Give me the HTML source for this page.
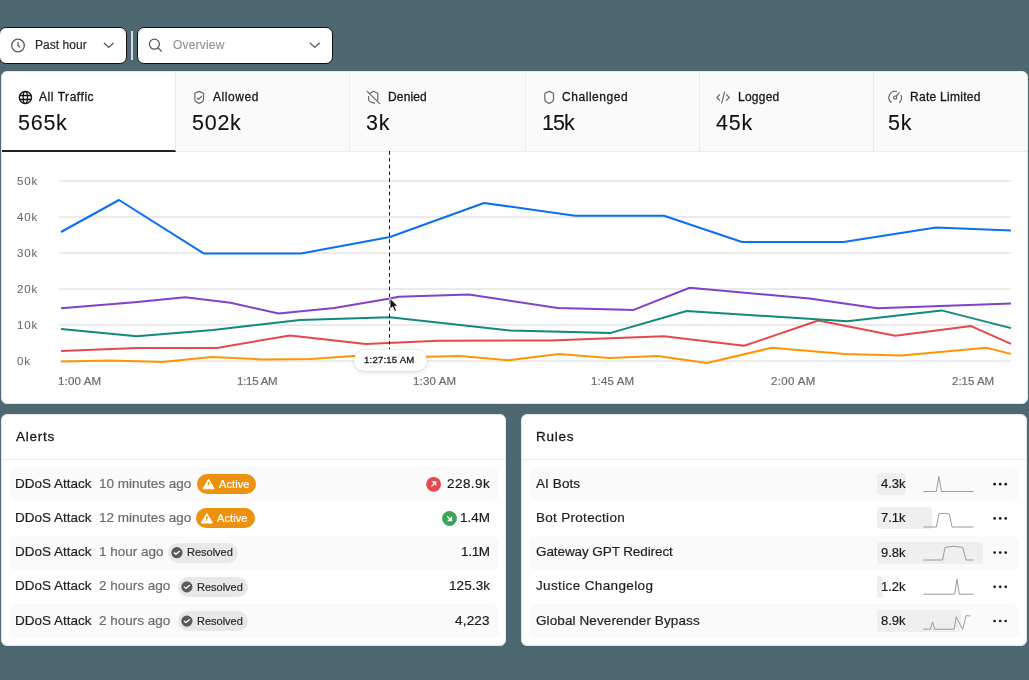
<!DOCTYPE html>
<html><head><meta charset="utf-8">
<style>
*{box-sizing:border-box;margin:0;padding:0}
html,body{width:1029px;height:680px;overflow:hidden;background:#4d6870;font-family:"Liberation Sans",sans-serif;color:#171717}
.a{position:absolute;white-space:nowrap;will-change:transform;-webkit-text-stroke:0.2px currentColor}
.dd{position:absolute;top:27px;height:37px;background:#fff;border:1px solid #111;border-radius:7px}
.card{position:absolute;background:#fff;border:1px solid #e6e6e6;border-radius:6px;overflow:hidden}
.tab{position:absolute;top:0;height:80px;background:#fafafa;border-right:1px solid #ebebeb;border-bottom:1px solid #ebebeb}
.hdr{position:absolute;top:0;left:0;right:0;height:45px;border-bottom:1px solid #ebebeb}
.row{position:absolute;left:7px;height:34px;border-radius:7px}
.row.g{background:#fafafa}
.badge{position:absolute;height:20px;border-radius:10px}
.bar{position:absolute;left:877px;height:22px;border-radius:4px;background:#efefef}
svg{position:absolute;left:0;top:0}
</style></head><body>

<!-- dropdowns -->
<div class="dd" style="left:-1px;width:128px"></div>
<div class="a" style="left:131px;top:31px;width:2px;height:29px;background:#d9d9d9"></div>
<div class="dd" style="left:137px;width:196px"></div>

<!-- chart card -->
<div class="card" style="left:1px;top:71px;width:1027px;height:333px">
  <div class="tab" style="left:0;width:174px;background:#fff;border-bottom:2px solid #222"></div>
  <div class="tab" style="left:174px;width:174px"></div>
  <div class="tab" style="left:348px;width:176px"></div>
  <div class="tab" style="left:524px;width:174px"></div>
  <div class="tab" style="left:698px;width:174px"></div>
  <div class="tab" style="left:872px;width:156px;border-right:none"></div>
</div>

<!-- alerts card -->
<div class="card" style="left:1px;top:414px;width:505px;height:232px">
  <div class="hdr"></div>
  <div class="row g" style="top:52px;width:490px"></div>
  <div class="row g" style="top:121px;width:490px"></div>
  <div class="row g" style="top:189px;width:490px"></div>
</div>

<!-- rules card -->
<div class="card" style="left:521px;top:414px;width:506px;height:232px">
  <div class="hdr"></div>
  <div class="row g" style="top:52px;width:490px"></div>
  <div class="row g" style="top:121px;width:490px"></div>
  <div class="row g" style="top:189px;width:490px"></div>
</div>

<!-- badges -->
<div class="badge" style="left:197px;top:474px;width:59px;background:#ec920e"></div>
<div class="badge" style="left:195.5px;top:508px;width:59px;background:#ec920e"></div>
<div class="badge" style="left:167.5px;top:543px;width:70px;background:#e8e8e8"></div>
<div class="badge" style="left:177.5px;top:577px;width:70px;background:#e8e8e8"></div>
<div class="badge" style="left:177.5px;top:611px;width:70px;background:#e8e8e8"></div>

<!-- rule bars -->
<div class="bar" style="top:473px;width:29px"></div>
<div class="bar" style="top:507px;width:55px"></div>
<div class="bar" style="top:541.5px;width:106px"></div>
<div class="bar" style="top:576px;width:5.5px"></div>
<div class="bar" style="top:610px;width:83.5px"></div>

<svg width="1029" height="680" viewBox="0 0 1029 680">
<line x1="59" y1="181" x2="1011" y2="181" stroke="#d6d6d6" stroke-width="1"/>
<line x1="59" y1="217" x2="1011" y2="217" stroke="#d6d6d6" stroke-width="1"/>
<line x1="59" y1="253" x2="1011" y2="253" stroke="#d6d6d6" stroke-width="1"/>
<line x1="59" y1="289" x2="1011" y2="289" stroke="#d6d6d6" stroke-width="1"/>
<line x1="59" y1="325" x2="1011" y2="325" stroke="#d6d6d6" stroke-width="1"/>
<line x1="59" y1="361" x2="1011" y2="361" stroke="#d6d6d6" stroke-width="1"/>
<polyline points="61,361.5 110.6,360.4 162.4,362 211.7,356.9 262.2,359.4 310.2,358.9 353.6,356 426.4,356.8 459.7,356 508.5,360.2 559,354.1 609.6,357.9 657.6,355.9 706.9,363 771.8,347.8 844.8,354.1 901.6,355.4 986.3,347.8 1011,353.9" fill="none" stroke="#ff9500" stroke-width="2" stroke-linejoin="round" stroke-linecap="butt"/>
<polyline points="61,351.1 137,348 216.8,348 290,335.4 366,344 438,340.8 550,340.4 663.9,336.2 744.2,345.8 818.3,320.5 895.3,335.7 971.1,326.1 1011,343.8" fill="none" stroke="#e5484d" stroke-width="2" stroke-linejoin="round" stroke-linecap="butt"/>
<polyline points="61,329.1 136.7,336.2 213,330.1 300,320 389.8,317.2 511,330.6 610.8,332.9 686.6,311 847.3,321.3 941.6,310.4 1011,328.1" fill="none" stroke="#12897b" stroke-width="2" stroke-linejoin="round" stroke-linecap="butt"/>
<polyline points="61,308.2 134.6,302.3 185.2,297.3 230.6,302.8 278.6,313.5 334.2,307.9 390,298.5 398.6,296.8 468.9,294.5 557.8,307.9 633.6,309.9 689.7,287.7 809.4,298.5 877.6,308.2 1011,303.6" fill="none" stroke="#8142c9" stroke-width="2" stroke-linejoin="round" stroke-linecap="butt"/>
<polyline points="61,232 119,200 204,253.6 301,253.6 390,237 484,203 575,215.7 664,215.7 742,242 843.5,242 936,227.4 1011,230.6" fill="none" stroke="#0a6ff0" stroke-width="2" stroke-linejoin="round" stroke-linecap="butt"/>

<line x1="389.5" y1="151.1" x2="389.5" y2="349.2" stroke="#111" stroke-width="1" stroke-dasharray="3.6 3.18"/>
</svg>

<div class="a" style="left:353.5px;top:349.5px;width:73px;height:20.5px;border-radius:10.25px;background:#fff;box-shadow:0 0 0 1px rgba(0,0,0,0.06),0 2px 5px rgba(0,0,0,0.10)"></div>
<div class="a" style="left:34.80px;top:38.84px;font-size:12px;line-height:12px;color:#2b2b2b;letter-spacing:0.05px;">Past hour</div>
<div class="a" style="left:172.60px;top:39.04px;font-size:12px;line-height:12px;color:#909090;letter-spacing:0.2px;-webkit-text-stroke:0.1px #909090;">Overview</div>
<div class="a" style="left:39.20px;top:90.74px;font-size:12px;line-height:12px;color:#171717;-webkit-text-stroke:0.3px currentColor;letter-spacing:0.55px;">All Traffic</div>
<div class="a" style="left:17.90px;top:112.80px;font-size:21.5px;line-height:21.5px;color:#111;letter-spacing:0.75px;-webkit-text-stroke:0.1px #111;">565k</div>
<div class="a" style="left:213.40px;top:90.74px;font-size:12px;line-height:12px;color:#171717;-webkit-text-stroke:0.3px currentColor;letter-spacing:0.55px;">Allowed</div>
<div class="a" style="left:191.90px;top:112.80px;font-size:21.5px;line-height:21.5px;color:#111;letter-spacing:0.75px;-webkit-text-stroke:0.1px #111;">502k</div>
<div class="a" style="left:387.60px;top:90.74px;font-size:12px;line-height:12px;color:#171717;-webkit-text-stroke:0.3px currentColor;letter-spacing:0.15px;">Denied</div>
<div class="a" style="left:366.00px;top:112.80px;font-size:21.5px;line-height:21.5px;color:#111;letter-spacing:0.75px;-webkit-text-stroke:0.1px #111;">3k</div>
<div class="a" style="left:562.40px;top:90.74px;font-size:12px;line-height:12px;color:#171717;-webkit-text-stroke:0.3px currentColor;letter-spacing:0.55px;">Challenged</div>
<div class="a" style="left:541.70px;top:112.80px;font-size:21.5px;line-height:21.5px;color:#111;letter-spacing:-0.9px;-webkit-text-stroke:0.1px #111;">15k</div>
<div class="a" style="left:737.60px;top:90.74px;font-size:12px;line-height:12px;color:#171717;-webkit-text-stroke:0.3px currentColor;letter-spacing:0.25px;">Logged</div>
<div class="a" style="left:716.00px;top:112.80px;font-size:21.5px;line-height:21.5px;color:#111;letter-spacing:0.75px;-webkit-text-stroke:0.1px #111;">45k</div>
<div class="a" style="left:909.70px;top:90.74px;font-size:12px;line-height:12px;color:#171717;-webkit-text-stroke:0.3px currentColor;letter-spacing:0.28px;">Rate Limited</div>
<div class="a" style="left:888.00px;top:112.80px;font-size:21.5px;line-height:21.5px;color:#111;letter-spacing:0.75px;-webkit-text-stroke:0.1px #111;">5k</div>
<div class="a" style="left:16.90px;top:175.87px;font-size:11.5px;line-height:11.5px;color:#666;letter-spacing:0.85px;-webkit-text-stroke:0.05px #666;">50k</div>
<div class="a" style="left:16.90px;top:211.87px;font-size:11.5px;line-height:11.5px;color:#666;letter-spacing:0.85px;-webkit-text-stroke:0.05px #666;">40k</div>
<div class="a" style="left:16.90px;top:247.87px;font-size:11.5px;line-height:11.5px;color:#666;letter-spacing:0.85px;-webkit-text-stroke:0.05px #666;">30k</div>
<div class="a" style="left:16.90px;top:283.87px;font-size:11.5px;line-height:11.5px;color:#666;letter-spacing:0.85px;-webkit-text-stroke:0.05px #666;">20k</div>
<div class="a" style="left:16.90px;top:319.87px;font-size:11.5px;line-height:11.5px;color:#666;letter-spacing:0.85px;-webkit-text-stroke:0.05px #666;">10k</div>
<div class="a" style="left:16.90px;top:355.87px;font-size:11.5px;line-height:11.5px;color:#666;letter-spacing:0.85px;-webkit-text-stroke:0.05px #666;">0k</div>
<div class="a" style="left:57.50px;top:375.97px;font-size:11.5px;line-height:11.5px;color:#6b6b6b;letter-spacing:0.15px;">1:00 AM</div>
<div class="a" style="left:236.90px;top:375.97px;font-size:11.5px;line-height:11.5px;color:#6b6b6b;letter-spacing:-0.25px;">1:15 AM</div>
<div class="a" style="left:412.50px;top:375.97px;font-size:11.5px;line-height:11.5px;color:#6b6b6b;letter-spacing:0.15px;">1:30 AM</div>
<div class="a" style="left:590.60px;top:375.97px;font-size:11.5px;line-height:11.5px;color:#6b6b6b;letter-spacing:0.15px;">1:45 AM</div>
<div class="a" style="left:770.70px;top:375.97px;font-size:11.5px;line-height:11.5px;color:#6b6b6b;letter-spacing:0.35px;">2:00 AM</div>
<div class="a" style="left:952.40px;top:375.97px;font-size:11.5px;line-height:11.5px;color:#6b6b6b;letter-spacing:0px;">2:15 AM</div>
<div class="a" style="left:16.30px;top:429.57px;font-size:13.5px;line-height:13.5px;color:#171717;-webkit-text-stroke:0.3px currentColor;letter-spacing:0.75px;">Alerts</div>
<div class="a" style="left:536.10px;top:429.57px;font-size:13.5px;line-height:13.5px;color:#171717;-webkit-text-stroke:0.3px currentColor;letter-spacing:0.75px;">Rules</div>
<div class="a" style="left:15.10px;top:476.77px;font-size:13.5px;line-height:13.5px;color:#1f1f1f;">DDoS Attack</div>
<div class="a" style="left:98.70px;top:476.77px;font-size:13.5px;line-height:13.5px;color:#6b6b6b;">10 minutes ago</div>
<div class="a" style="right:539.00px;top:476.77px;font-size:13.5px;line-height:13.5px;color:#1a1a1a;letter-spacing:0.45px;">228.9k</div>
<div class="a" style="left:15.10px;top:510.97px;font-size:13.5px;line-height:13.5px;color:#1f1f1f;">DDoS Attack</div>
<div class="a" style="left:98.70px;top:510.97px;font-size:13.5px;line-height:13.5px;color:#6b6b6b;">12 minutes ago</div>
<div class="a" style="right:539.00px;top:510.97px;font-size:13.5px;line-height:13.5px;color:#1a1a1a;letter-spacing:0px;">1.4M</div>
<div class="a" style="left:15.10px;top:545.17px;font-size:13.5px;line-height:13.5px;color:#1f1f1f;">DDoS Attack</div>
<div class="a" style="left:98.70px;top:545.17px;font-size:13.5px;line-height:13.5px;color:#6b6b6b;">1 hour ago</div>
<div class="a" style="right:539.00px;top:545.17px;font-size:13.5px;line-height:13.5px;color:#1a1a1a;letter-spacing:-0.3px;">1.1M</div>
<div class="a" style="left:15.10px;top:579.37px;font-size:13.5px;line-height:13.5px;color:#1f1f1f;">DDoS Attack</div>
<div class="a" style="left:98.70px;top:579.37px;font-size:13.5px;line-height:13.5px;color:#6b6b6b;">2 hours ago</div>
<div class="a" style="right:539.00px;top:579.37px;font-size:13.5px;line-height:13.5px;color:#1a1a1a;letter-spacing:0.1px;">125.3k</div>
<div class="a" style="left:15.10px;top:613.67px;font-size:13.5px;line-height:13.5px;color:#1f1f1f;">DDoS Attack</div>
<div class="a" style="left:98.70px;top:613.67px;font-size:13.5px;line-height:13.5px;color:#6b6b6b;">2 hours ago</div>
<div class="a" style="right:539.00px;top:613.67px;font-size:13.5px;line-height:13.5px;color:#1a1a1a;letter-spacing:0.2px;">4,223</div>
<div class="a" style="left:536.10px;top:476.77px;font-size:13.5px;line-height:13.5px;color:#1f1f1f;letter-spacing:0.1px;">AI Bots</div>
<div class="a" style="left:880.50px;top:477.20px;font-size:13px;line-height:13px;color:#1a1a1a;">4.3k</div>
<div class="a" style="left:536.10px;top:510.97px;font-size:13.5px;line-height:13.5px;color:#1f1f1f;letter-spacing:0.3px;">Bot Protection</div>
<div class="a" style="left:880.50px;top:511.40px;font-size:13px;line-height:13px;color:#1a1a1a;">7.1k</div>
<div class="a" style="left:536.10px;top:545.17px;font-size:13.5px;line-height:13.5px;color:#1f1f1f;letter-spacing:-0.09px;">Gateway GPT Redirect</div>
<div class="a" style="left:880.50px;top:545.60px;font-size:13px;line-height:13px;color:#1a1a1a;">9.8k</div>
<div class="a" style="left:536.10px;top:579.37px;font-size:13.5px;line-height:13.5px;color:#1f1f1f;letter-spacing:0.37px;">Justice Changelog</div>
<div class="a" style="left:880.50px;top:579.80px;font-size:13px;line-height:13px;color:#1a1a1a;">1.2k</div>
<div class="a" style="left:536.10px;top:613.67px;font-size:13.5px;line-height:13.5px;color:#1f1f1f;letter-spacing:0.1px;">Global Neverender Bypass</div>
<div class="a" style="left:880.50px;top:614.10px;font-size:13px;line-height:13px;color:#1a1a1a;">8.9k</div>
<div class="a" style="left:219.20px;top:478.79px;font-size:11px;line-height:11px;color:#fff;-webkit-text-stroke:0.2px #fff;letter-spacing:0.1px;">Active</div>
<div class="a" style="left:217.40px;top:512.99px;font-size:11px;line-height:11px;color:#fff;-webkit-text-stroke:0.2px #fff;letter-spacing:0.1px;">Active</div>
<div class="a" style="left:187.10px;top:547.49px;font-size:11px;line-height:11px;color:#2a2a2a;-webkit-text-stroke:0.2px #2a2a2a;">Resolved</div>
<div class="a" style="left:197.10px;top:581.69px;font-size:11px;line-height:11px;color:#2a2a2a;-webkit-text-stroke:0.2px #2a2a2a;">Resolved</div>
<div class="a" style="left:197.10px;top:615.89px;font-size:11px;line-height:11px;color:#2a2a2a;-webkit-text-stroke:0.2px #2a2a2a;">Resolved</div>
<div class="a" style="left:363.70px;top:354.87px;font-size:9.6px;line-height:9.6px;color:#1a1a1a;-webkit-text-stroke:0.32px #1a1a1a;letter-spacing:0.2px;">1:27:15 AM</div>
<svg width="1029" height="680" viewBox="0 0 1029 680">
<g fill="none" stroke="#555" stroke-width="1.25" stroke-linecap="round" stroke-linejoin="round">
<circle cx="18" cy="45.5" r="6.3"/><path d="M18 42.3V45.6L19.8 47"/>
<circle cx="154.4" cy="44.2" r="5"/><path d="M158.1 47.9L161.4 51.2"/>
<path d="M104.3 43.2L108.7 47.4L113.2 43.2"/><path d="M310.3 43.2L314.8 47.4L319.3 43.2"/>
</g>
<g fill="none" stroke="#111" stroke-width="1.3"><circle cx="25.4" cy="97.5" r="6.1"/><ellipse cx="25.3" cy="97.5" rx="2.2" ry="6"/><path d="M19.5 95.5H31.3M19.5 99.5H31.3"/></g>
<g fill="none" stroke="#666" stroke-width="1.2" stroke-linejoin="round" stroke-linecap="round">
<path d="M199.2 91.4L203.5 93.2V99.2Q203.5 101.8 199.2 103.4Q194.79999999999998 101.8 194.79999999999998 99.2V93.2Z"/><path d="M197.2 98.1L198.6 99.4L201.5 96.4"/>
<path d="M549.2 91.4L553.5 93.2V99.2Q553.5 101.8 549.2 103.4Q544.8000000000001 101.8 544.8000000000001 99.2V93.2Z"/>
<path d="M367.2 91.4L379.6 103.6"/><path d="M369.8 93.4L373.3 91.3L377.8 93.2V100.4"/><path d="M368.6 96.6V99.3Q368.6 101.9 374.6 103.2"/>
<path d="M719.6 94.6L717 97.5L719.6 100.4M726.4 94.6L729.3 97.5L726.4 100.4M724.6 92.2L721.7 102.8"/>
<path d="M891.04 102.28A6.3 6.3 0 0 1 896.57 91.44"/><path d="M901.18 95.45A6.3 6.3 0 0 1 899.31 102.43"/><circle cx="895.2" cy="97.6" r="1.6"/><path d="M896.3 96.4L899.2 92.6"/>
</g>
<path d="M208.6 479.2L214.2 488.8H203.0Z" fill="#fff" stroke="#fff" stroke-width="1" stroke-linejoin="round"/>
<path d="M208.6 482.0V485.0M208.6 486.4V486.7" stroke="#ec920e" stroke-width="1.5"/>
<path d="M206.8 513.4L212.4 523.0H201.20000000000002Z" fill="#fff" stroke="#fff" stroke-width="1" stroke-linejoin="round"/>
<path d="M206.8 516.1999999999999V519.1999999999999M206.8 520.6V520.9" stroke="#ec920e" stroke-width="1.5"/>
<circle cx="176.9" cy="552.7" r="5.6" fill="#5a5a5a"/><path d="M174.3 552.7L175.9 554.2L179.4 551.3000000000001" fill="none" stroke="#fff" stroke-width="1.3" stroke-linecap="round" stroke-linejoin="round"/>
<circle cx="186.9" cy="586.9" r="5.6" fill="#5a5a5a"/><path d="M184.3 586.9L185.9 588.4L189.4 585.5" fill="none" stroke="#fff" stroke-width="1.3" stroke-linecap="round" stroke-linejoin="round"/>
<circle cx="186.9" cy="621.1" r="5.6" fill="#5a5a5a"/><path d="M184.3 621.1L185.9 622.6L189.4 619.7" fill="none" stroke="#fff" stroke-width="1.3" stroke-linecap="round" stroke-linejoin="round"/>
<circle cx="433.6" cy="484.3" r="7.4" fill="#e5484d"/><path d="M431.3 486.6L435.6 482.3" stroke="#fff" stroke-width="1.3"/><path d="M431.4 481.2H436.3V486.1Z" fill="#fff"/>
<circle cx="449.5" cy="518.5" r="7.4" fill="#3aa55a"/><path d="M447.2 516.2L451.5 520.5" stroke="#fff" stroke-width="1.3"/><path d="M452.2 516.1V521.2H447.1Z" fill="#fff"/>
<g fill="none" stroke="#9a9a9a" stroke-width="1" stroke-linejoin="round">
<polyline points="923.3,491.5 936.3,491.5 938.8,476.4 941.4,491.5 973.5,491.5"/>
<polyline points="923.3,527 936.3,527 939.2,513.4 944.3,513.4 949.4,514.1 952,527 973.5,527"/>
<polyline points="923.3,560 942.6,560 945,547.4 953.4,546.3 962.7,547.4 966.1,560 973.2,560"/>
<polyline points="923.3,594.2 954.7,594.2 957,579 959.3,594.2 973.5,594.2"/>
<polyline points="923.3,629.2 930.3,629.2 932.6,622 934.6,629.2 954.2,629.2 956.2,616.9 962.7,629.5 966.1,615.6 970.4,616"/>
</g>
<g fill="#1a1a1a">
<circle cx="994.6" cy="484.2" r="1.35"/>
<circle cx="1000.2" cy="484.2" r="1.35"/>
<circle cx="1005.7" cy="484.2" r="1.35"/>
<circle cx="994.6" cy="518.4" r="1.35"/>
<circle cx="1000.2" cy="518.4" r="1.35"/>
<circle cx="1005.7" cy="518.4" r="1.35"/>
<circle cx="994.6" cy="552.6" r="1.35"/>
<circle cx="1000.2" cy="552.6" r="1.35"/>
<circle cx="1005.7" cy="552.6" r="1.35"/>
<circle cx="994.6" cy="586.8" r="1.35"/>
<circle cx="1000.2" cy="586.8" r="1.35"/>
<circle cx="1005.7" cy="586.8" r="1.35"/>
<circle cx="994.6" cy="621.0" r="1.35"/>
<circle cx="1000.2" cy="621.0" r="1.35"/>
<circle cx="1005.7" cy="621.0" r="1.35"/>
</g>
<path d="M390 298.3V309.2L392.6 306.8L394.6 311.4L396.6 310.6L394.7 306.2H397.9Z" fill="#111" stroke="#fff" stroke-width="0.9" stroke-linejoin="round"/>
</svg>

</body></html>
